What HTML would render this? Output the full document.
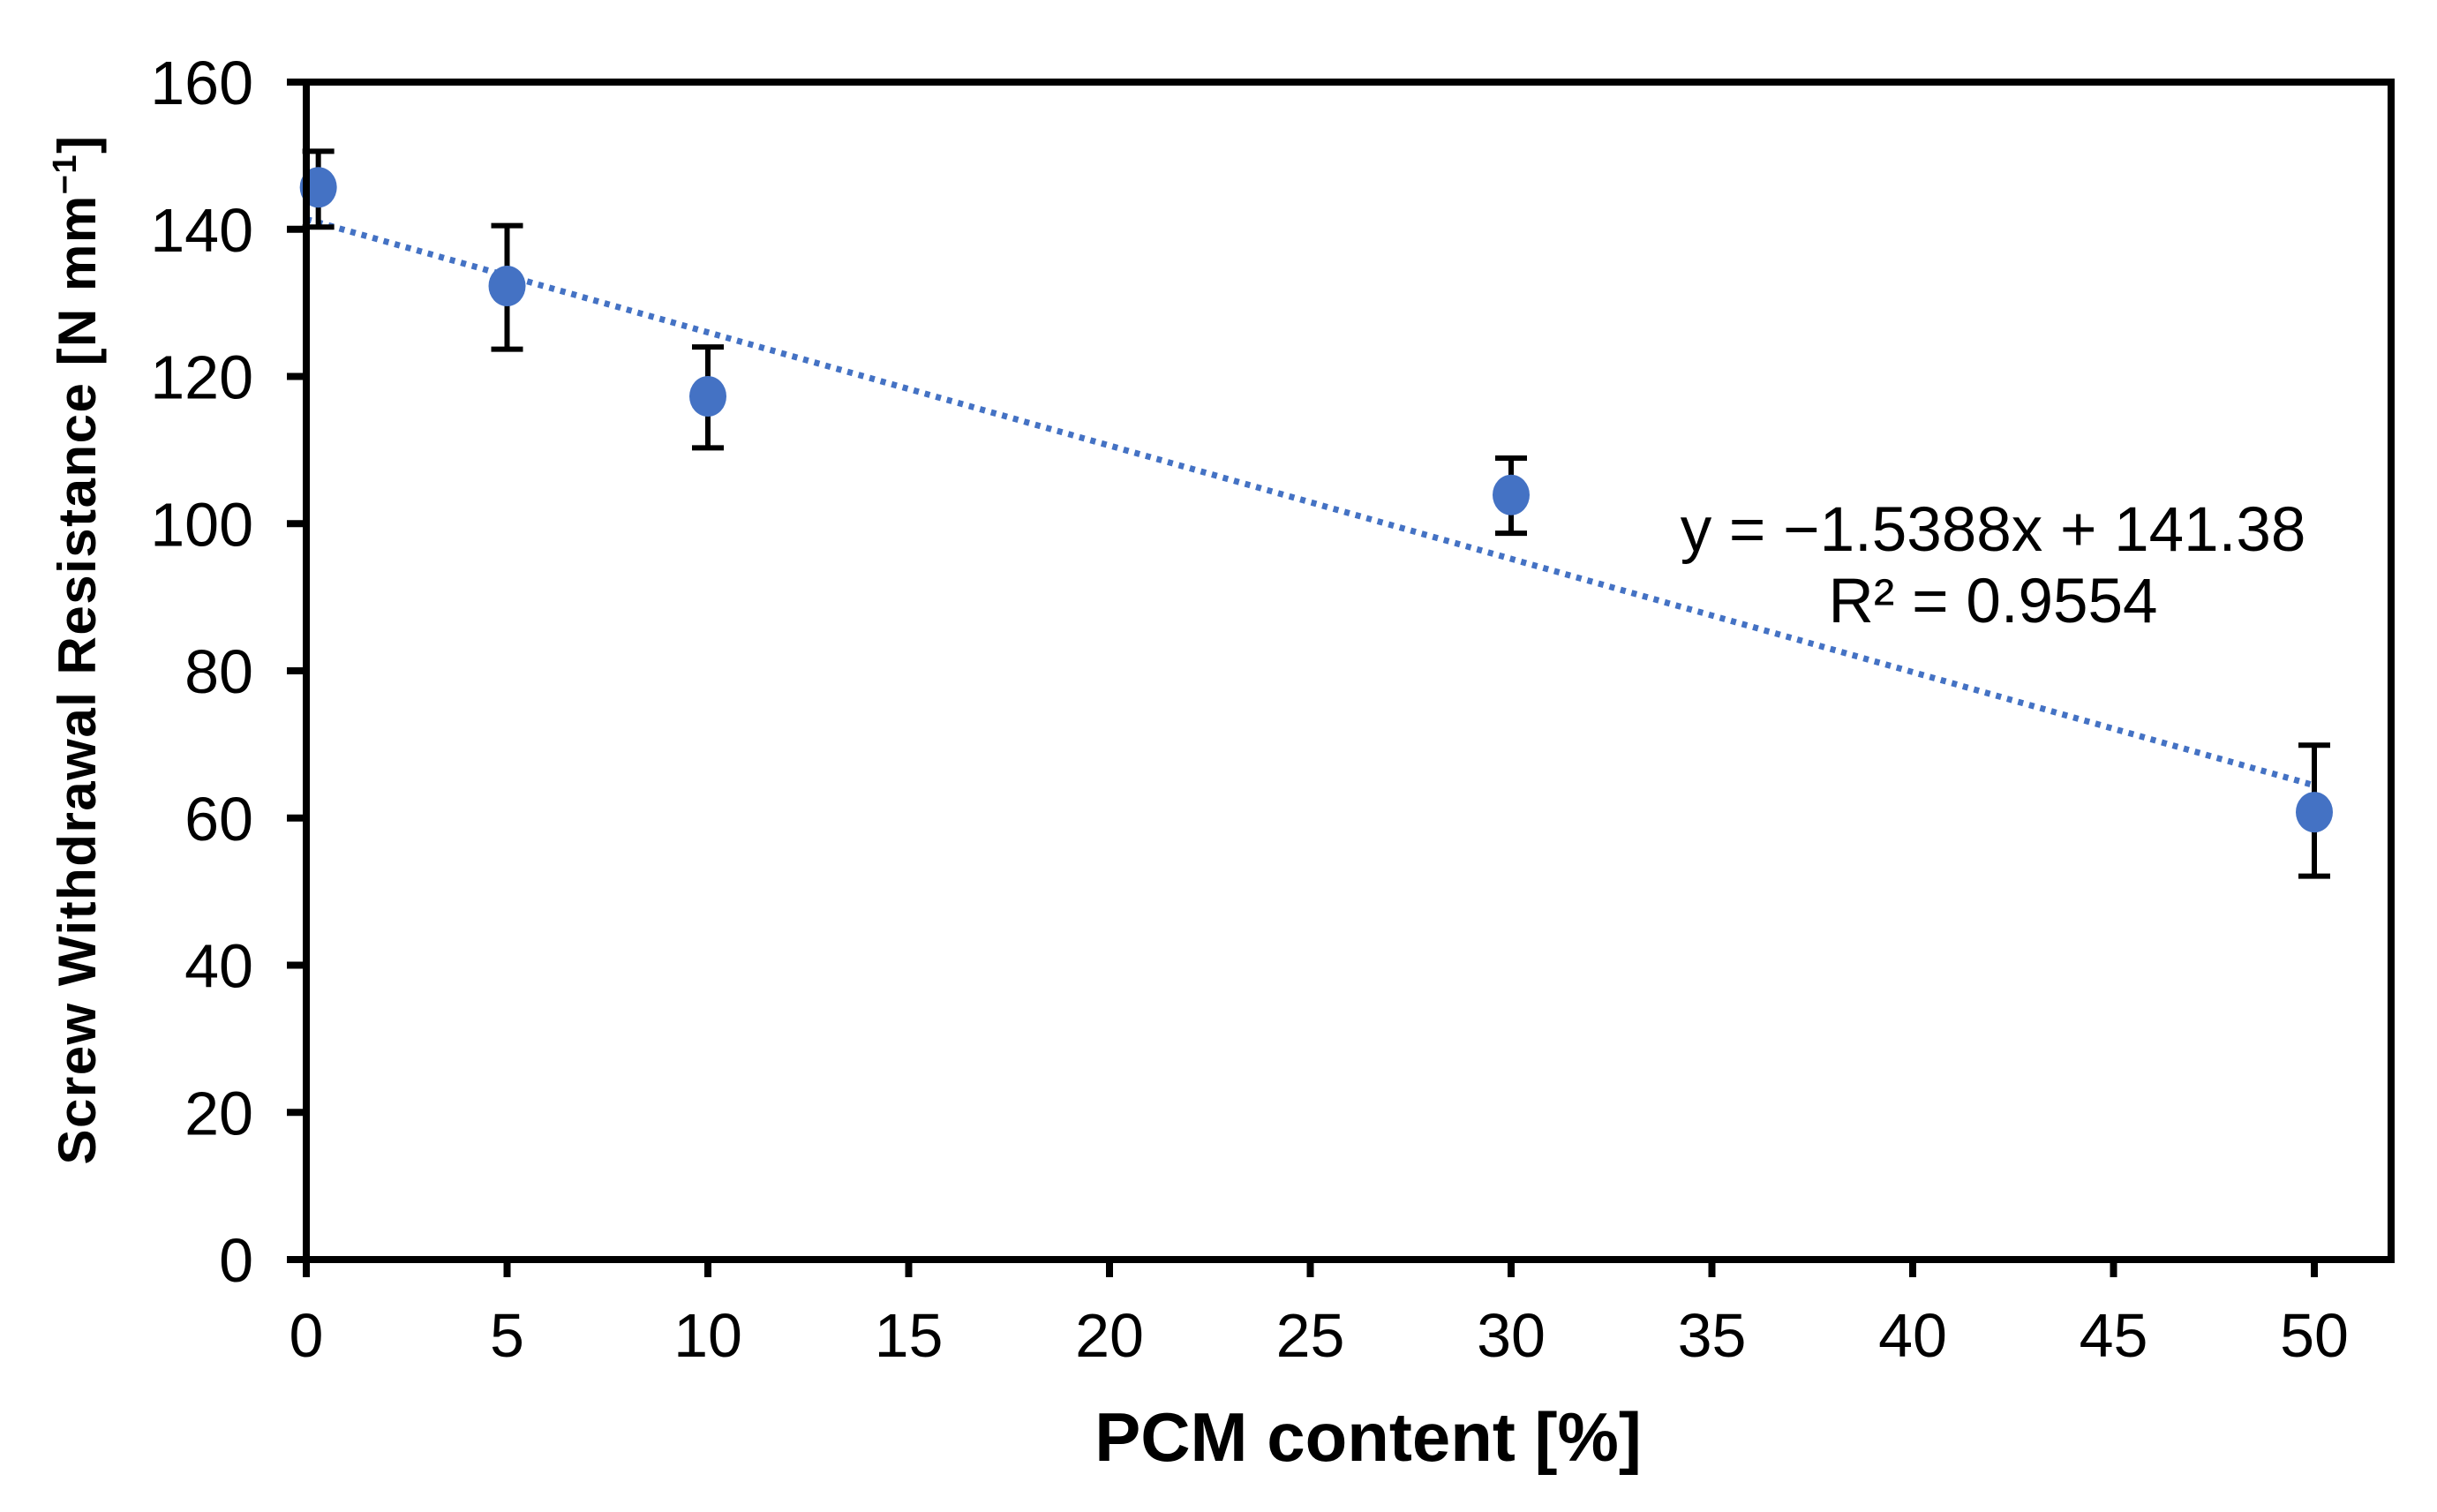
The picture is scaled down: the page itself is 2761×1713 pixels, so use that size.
<!DOCTYPE html>
<html><head><meta charset="utf-8">
<style>html,body{margin:0;padding:0;background:#fff;}svg{display:block;}</style>
</head><body>
<svg id="chart" width="2761" height="1713" viewBox="0 0 2761 1713" xmlns="http://www.w3.org/2000/svg" font-family="'Liberation Sans', Arial, sans-serif">
<rect width="2761" height="1713" fill="#fff"/>
<g id="grid"></g>
<g id="trend"></g>
<g id="errs"></g>
<g id="pts"></g>
<rect x="347" y="93" width="2362" height="1334" fill="none" stroke="#000" stroke-width="8"/>
<g id="ticks"></g>
<text x="108" y="736" transform="rotate(-90 108 736)" text-anchor="middle" font-size="60" font-weight="bold" letter-spacing="1.5">Screw Withdrawal Resistance  [N mm<tspan dy="-22" font-size="38">−1</tspan><tspan dy="22">]</tspan></text>
<text x="1550" y="1655" text-anchor="middle" font-size="78" font-weight="bold">PCM content [%]</text>
<text x="2258" y="624" text-anchor="middle" font-size="71">y = −1.5388x + 141.38</text>
<text x="2258" y="705" text-anchor="middle" font-size="71">R² = 0.9554</text>
</svg>
<script>
const xValues = [0.3, 5, 10, 30, 50];
const yValues = [145.7, 132.3, 117.3, 103.9, 60.8];
const errUpper = [150.6, 140.5, 124.0, 108.9, 69.9];
const errLower = [140.3, 123.7, 110.3, 98.7, 52.1];
const xTicks = [0, 5, 10, 15, 20, 25, 30, 35, 40, 45, 50];
const yTicks = [0, 20, 40, 60, 80, 100, 120, 140, 160];
const trendSlope = -1.5388;
const trendIntercept = 141.38;
const trendRange = [0, 50];

const NS = 'http://www.w3.org/2000/svg';
function X(v){ return 347 + v * (2622 - 347) / 50; }
function Y(v){ return 1427 - v * (1427 - 93) / 160; }
function mk(tag, attrs, parent){
  const e = document.createElementNS(NS, tag);
  for (const k in attrs) e.setAttribute(k, attrs[k]);
  document.getElementById(parent).appendChild(e);
  return e;
}
xTicks.forEach(t => {
  const l = mk('line', {x1: X(t), x2: X(t), y1: 1427, y2: 1447, stroke: '#000', 'stroke-width': 8}, 'ticks');
  
  
  const tx = mk('text', {x: X(t), y: 1537, 'text-anchor': 'middle', 'font-size': 70}, 'ticks');
  tx.textContent = t;
  
  
});
yTicks.forEach(t => {
  const l = mk('line', {x1: 325, x2: 347, y1: Y(t), y2: Y(t), stroke: '#000', 'stroke-width': 8}, 'ticks');
  
  
  const tx = mk('text', {x: 287, y: Y(t) + 25, 'text-anchor': 'end', 'font-size': 70}, 'ticks');
  tx.textContent = t;
  
  
});
const tl = mk('line', {x1: X(trendRange[0]), y1: Y(trendSlope*trendRange[0]+trendIntercept), x2: X(trendRange[1]), y2: Y(trendSlope*trendRange[1]+trendIntercept), stroke: '#4472C4', 'stroke-width': 7, 'stroke-dasharray': '6 7'}, 'trend');


xValues.forEach((xv, i) => {
  const cx = X(xv);
  const g = mk('g', {stroke: '#000', 'stroke-width': 6}, 'errs');
  
  
  [[cx, Y(errUpper[i]), cx, Y(errLower[i])],
   [cx-18, Y(errUpper[i]), cx+18, Y(errUpper[i])],
   [cx-18, Y(errLower[i]), cx+18, Y(errLower[i])]].forEach(c => {
    const ln = document.createElementNS(NS, 'line');
    ln.setAttribute('x1', c[0]); ln.setAttribute('y1', c[1]);
    ln.setAttribute('x2', c[2]); ln.setAttribute('y2', c[3]);
    g.appendChild(ln);
  });
  const p = mk('ellipse', {cx: cx, cy: Y(yValues[i]), rx: 21, ry: 23, fill: '#4472C4'}, 'pts');
  
  
});
</script>
</body></html>
